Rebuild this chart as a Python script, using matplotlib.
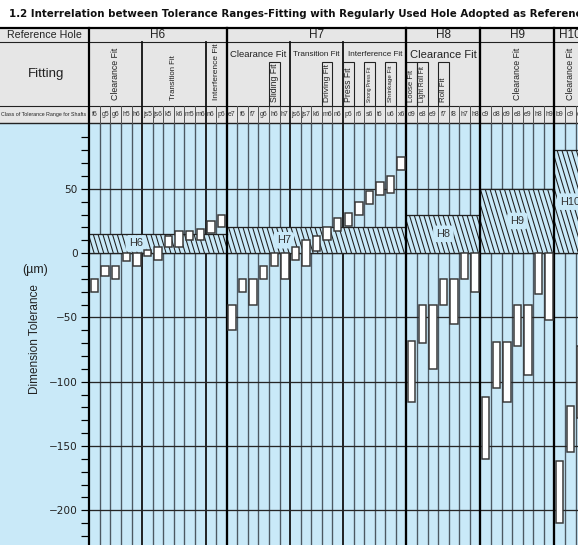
import matplotlib
matplotlib.use("Agg")
import numpy as np
import matplotlib.pyplot as plt
from matplotlib.patches import Rectangle
from matplotlib.collections import LineCollection
from matplotlib.ticker import FixedLocator
from matplotlib import font_manager as fm

# ---------------- data ----------------
holes = ["H6", "H7", "H8", "H9", "H10"]
hole_upper = [15, 20, 30, 50, 80]          # hole tolerance zone, lower limit 0
hole_label_pos = [4.4, 18.4, 33.5, 40.5, 45.5]

h6_shafts = ["f6", "g5", "g6", "h5", "h6", "js5", "js6", "k5", "k6", "m5", "m6", "n6", "p6"]
h6_upper = [-20, -10, -10, 0, 0, 2.5, 5, 13, 17, 17, 19, 25, 30]
h6_lower = [-30, -18, -20, -6, -10, -2.5, -5, 5, 5, 10, 10, 16, 20]

h7_shafts = ["e7", "f6", "f7", "g6", "h6", "h7", "js6", "js7", "k6", "m6", "n6",
             "p6", "r6", "s6", "t6", "u6", "x6"]
h7_upper = [-40, -20, -20, -10, 0, 0, 5, 10, 13, 20, 27, 31, 40, 48, 55, 60, 75]
h7_lower = [-60, -30, -40, -20, -10, -20, -5, -10, 2, 10, 17, 21, 30, 38, 45, 47, 65]

h8_shafts = ["d9", "e8", "e9", "f7", "f8", "h7", "h8"]
h8_upper = [-68, -40, -40, -20, -20, 0, 0]
h8_lower = [-116, -70, -90, -40, -55, -20, -30]

h9_shafts = ["c9", "d8", "d9", "e8", "e9", "h8", "h9"]
h9_upper = [-112, -69, -69, -40, -40, 0, 0]
h9_lower = [-160, -105, -116, -72, -95, -32, -52]

h10_shafts = ["b9", "c9", "d9"]
h10_upper = [-162, -119, -72]
h10_lower = [-210, -155, -128]

# fit groups: (hole, label, first shaft index in hole, number of shafts, orientation)
fit_groups = [
    ("H6", "Clearance Fit", 0, 5, "v"),
    ("H6", "Transition Fit", 5, 6, "v"),
    ("H6", "Interference Fit", 11, 2, "v"),
    ("H7", "Clearance Fit", 0, 6, "h"),
    ("H7", "Transition Fit", 6, 5, "h"),
    ("H7", "Interference Fit", 11, 6, "h"),
    ("H8", "Clearance Fit", 0, 7, "h"),
    ("H9", "Clearance Fit", 0, 7, "v"),
    ("H10", "Clearance Fit", 0, 3, "v"),
]
# named fits: (label, hole, shaft)
named_fits = [
    ("Sliding Fit", "H7", "h6"),
    ("Driving Fit", "H7", "m6"),
    ("Press Fit", "H7", "p6"),
    ("Strong Press Fit", "H7", "s6"),
    ("Shrinkage Fit", "H7", "u6"),
    ("Loose Fit", "H8", "d9"),
    ("Light Roll Fit", "H8", "e8"),
    ("Roll Fit", "H8", "f7"),
]

title = ("1.2 Interrelation between Tolerance Ranges-Fitting with Regularly "
         "Used Hole Adopted as Reference")

# ---------------- layout / style ----------------
W, H, DPI = 578, 545, 100
PT = 72.0 / DPI
BLUE = "#c9e9f8"
GRAY = "#e6e6e6"
INK = "#222222"
LEFT_PX = 89.3
COL_PX = 10.57
HEAD_TOP, ROW1, ROW2, HEAD_BOT = 28.0, 42.3, 106.0, 122.5
BOX_TOP = 61.7
ZERO_PX, UNIT_PX = 253.1, 1.286


def has_font(name):
    try:
        fm.findfont(fm.FontProperties(family=name), fallback_to_default=False)
        return True
    except Exception:
        return False


NARROW = "Liberation Sans Narrow" if has_font("Liberation Sans Narrow") else "Liberation Sans"

shaft_lists = [h6_shafts, h7_shafts, h8_shafts, h9_shafts, h10_shafts]
upper_lists = [h6_upper, h7_upper, h8_upper, h9_upper, h10_upper]
lower_lists = [h6_lower, h7_lower, h8_lower, h9_lower, h10_lower]
shafts = sum(shaft_lists, [])
upper = np.array(sum(upper_lists, []), dtype=float)
lower = np.array(sum(lower_lists, []), dtype=float)
ncols = len(shafts)
starts = np.concatenate([[0], np.cumsum([len(s) for s in shaft_lists])])
hole_start = {h: int(starts[i]) for i, h in enumerate(holes)}

xmax = (W - LEFT_PX) / COL_PX
ytop = (ZERO_PX - HEAD_BOT) / UNIT_PX
ybot = (ZERO_PX - H) / UNIT_PX

fig = plt.figure(figsize=(W / DPI, H / DPI), dpi=DPI, facecolor="white")
fig.patches.append(Rectangle((0, 0), 1, (H - HEAD_BOT) / H, transform=fig.transFigure,
                             facecolor=BLUE, edgecolor="none", zorder=-5))
renderer = fig.canvas.get_renderer()


def fit(t, target, vertical=False):
    bb = t.get_window_extent(renderer)
    cur = bb.height if vertical else bb.width
    if cur > 0:
        t.set_fontsize(t.get_fontsize() * target / cur)
    return t.get_fontsize()


# ---------------- main plot ----------------
ax = fig.add_axes([LEFT_PX / W, 0, 1 - LEFT_PX / W, (H - HEAD_BOT) / H])
ax.set_xlim(0, xmax)
ax.set_ylim(ybot, ytop)
ax.set_facecolor(BLUE)
for s in ["top", "right", "bottom"]:
    ax.spines[s].set_visible(False)
ax.spines["left"].set_linewidth(2.2 * PT)
ax.spines["left"].set_color("black")
ax.spines["left"].set_zorder(6)
ax.set_xticks([])
major = [-200, -150, -100, -50, 0, 50]
ax.set_yticks(major)
ax.set_yticklabels([str(v).replace("-", "\u2212") for v in major])
ax.yaxis.set_minor_locator(FixedLocator([v for v in range(-220, 100, 10) if v not in major]))
ax.tick_params(axis="y", which="both", direction="out", length=8.5 * PT, width=1.2 * PT,
               color="black", labelsize=10.5 * PT, pad=3 * PT, labelcolor=INK)
for lab in ax.get_yticklabels():
    lab.set_family("DejaVu Sans")

group_bounds = set(int(s) for s in starts[1:])
sub_bounds = set()
for hole, lab, i0, n, orient in fit_groups:
    if i0 > 0:
        sub_bounds.add(hole_start[hole] + i0)

for k in range(1, ncols + 1):
    if k in group_bounds:
        ax.axvline(k, color="black", lw=2.3 * PT, zorder=4)
    elif k in sub_bounds:
        ax.axvline(k, color="#111111", lw=1.8 * PT, zorder=1.5)
    else:
        ax.axvline(k, color="#4c5862", lw=1.35 * PT, zorder=1.5)

for v in major:
    ax.axhline(v, color="#262626", lw=1.3 * PT, zorder=2)

label_size = None
for g, (name, top) in enumerate(zip(holes, hole_upper)):
    x0, x1 = starts[g], starts[g + 1]
    rect = Rectangle((x0, 0), x1 - x0, top, facecolor=BLUE, edgecolor="none", zorder=3)
    ax.add_patch(rect)
    run = 0.3 * top * UNIT_PX / COL_PX
    step = 4.8 / COL_PX
    xs = np.arange(x0 - run, x1 + step, step)
    segs = [[(xv, top), (xv + run, 0)] for xv in xs]
    lc = LineCollection(segs, colors="#1e1e1e", linewidths=1.05 * PT, zorder=3.1)
    ax.add_collection(lc)
    lc.set_clip_path(rect)
    ax.plot([x0, x1], [top, top], color="#222222", lw=1.3 * PT, zorder=3.2)
    ax.plot([x0, x1], [0, 0], color="#222222", lw=1.3 * PT, zorder=3.2)
    t = ax.text(hole_label_pos[g], top / 2, name, ha="center", va="center",
                fontsize=10, family=NARROW, color="#333333", zorder=3.5,
                bbox=dict(boxstyle="round,pad=0.3", fc=BLUE, ec="none"))
    if label_size is None:
        label_size = fit(t, 14.0)
    else:
        t.set_fontsize(label_size)

xc = np.arange(ncols) + 0.5
ax.bar(xc, upper - lower, bottom=lower, width=0.7, color="white",
       edgecolor="#383838", linewidth=1.5 * PT, zorder=5)

# ---------------- header table ----------------
L = LEFT_PX / COL_PX
hx = fig.add_axes([0, (H - HEAD_BOT) / H, 1, (HEAD_BOT - HEAD_TOP) / H])
hx.set_xlim(-L, xmax)
hx.set_ylim(HEAD_BOT, HEAD_TOP)
hx.axis("off")
hx.add_patch(Rectangle((-L, HEAD_TOP), L + xmax, HEAD_BOT - HEAD_TOP, fc=GRAY, ec="none", zorder=0))


def hline(y, lw, color=INK):
    hx.plot([-L, xmax], [y, y], color=color, lw=lw * PT, clip_on=False, zorder=3)


def vline(x, y0, y1, lw, color=INK, z=3):
    hx.plot([x, x], [y0, y1], color=color, lw=lw * PT, clip_on=False, zorder=z)


hline(HEAD_TOP, 2.2, "black")
hline(ROW1, 1.1)
hline(ROW2, 1.1)
hline(HEAD_BOT, 1.4)
vline(0, HEAD_TOP, HEAD_BOT, 2.2, "black")
for k in range(1, ncols + 1):
    if k in group_bounds:
        vline(k, HEAD_TOP, HEAD_BOT, 2.3, "black", 4)
    elif k in sub_bounds:
        vline(k, ROW1, HEAD_BOT, 1.8, "#111111")
    else:
        vline(k, ROW2, HEAD_BOT, 1.0, "#555555")

ykw = dict(family=NARROW, color=INK, ha="center", va="center")
t = hx.text(-L + 44 / COL_PX, 35.3, "Reference Hole", fontsize=9, **ykw)
fit(t, 74)
t = hx.text(-L + 46.5 / COL_PX, 74.5, "Fitting", fontsize=9, **ykw)
fit(t, 37)
t = hx.text(-L + 44 / COL_PX, 114.2, "Class of Tolerance Range for Shafts", fontsize=5, **ykw)
fit(t, 85)

hole_size = None
for g, name in enumerate(holes):
    t = hx.text((starts[g] + starts[g + 1]) / 2, 35.3, name, fontsize=9, **ykw)
    if hole_size is None:
        hole_size = fit(t, 15)
    else:
        t.set_fontsize(hole_size)

# shaft class labels
cls_size = None
for i, s in enumerate(shafts):
    t = hx.text(i + 0.5, 114.2, s, fontsize=5, family=NARROW, color="#333333",
                ha="center", va="center")
    if cls_size is None:
        cls_size = fit(t, 5.8)
    else:
        t.set_fontsize(cls_size)

# fit group labels
vert_len = {"Clearance Fit": 53, "Transition Fit": 45, "Interference Fit": 57}
horiz_len = {("H7", "Clearance Fit"): 57, ("H7", "Transition Fit"): 47,
             ("H7", "Interference Fit"): 55, ("H8", "Clearance Fit"): 67}
for hole, lab, i0, n, orient in fit_groups:
    c0 = hole_start[hole] + i0
    cx = c0 + n / 2
    if orient == "v":
        t = hx.text(cx, 100.5, lab, rotation=90, rotation_mode="anchor", ha="left",
                    va="center", family=NARROW, color=INK, fontsize=8)
        fit(t, vert_len[lab], vertical=True)
    else:
        t = hx.text(cx, 54.5, lab, ha="center", va="center", family=NARROW,
                    color=INK, fontsize=8)
        fit(t, horiz_len[(hole, lab)])

named_len = {"Sliding Fit": 39, "Driving Fit": 38, "Press Fit": 34, "Strong Press Fit": 35,
             "Shrinkage Fit": 37, "Loose Fit": 32, "Light Roll Fit": 37, "Roll Fit": 25}
for lab, hole, sh in named_fits:
    c = hole_start[hole] + shaft_lists[holes.index(hole)].index(sh)
    hx.add_patch(Rectangle((c, BOX_TOP), 1, ROW2 - BOX_TOP, fc="none", ec=INK,
                           lw=1.1 * PT, zorder=3, clip_on=False))
    t = hx.text(c + 0.5, 102.5, lab, rotation=90, rotation_mode="anchor", ha="left",
                va="center", family=NARROW, color=INK, fontsize=6)
    fit(t, named_len[lab], vertical=True)

# ---------------- title & axis label ----------------
t = fig.text(9 / W, 1 - 14 / H, title, fontsize=7.4, fontweight="bold",
             family="DejaVu Sans", color="#111111", ha="left", va="center")
fit(t, 577)
t = fig.text(35 / W, 1 - 339 / H, "Dimension Tolerance", rotation=90, ha="center",
             va="center", family=NARROW, color=INK, fontsize=9)
fit(t, 110, vertical=True)
t = fig.text(35 / W, 1 - 270 / H, "(\u00b5m)", ha="center", va="center",
             family="Liberation Sans", color=INK, fontsize=8)
fit(t, 26)

fig.savefig("out.png", dpi=DPI, facecolor="white")
